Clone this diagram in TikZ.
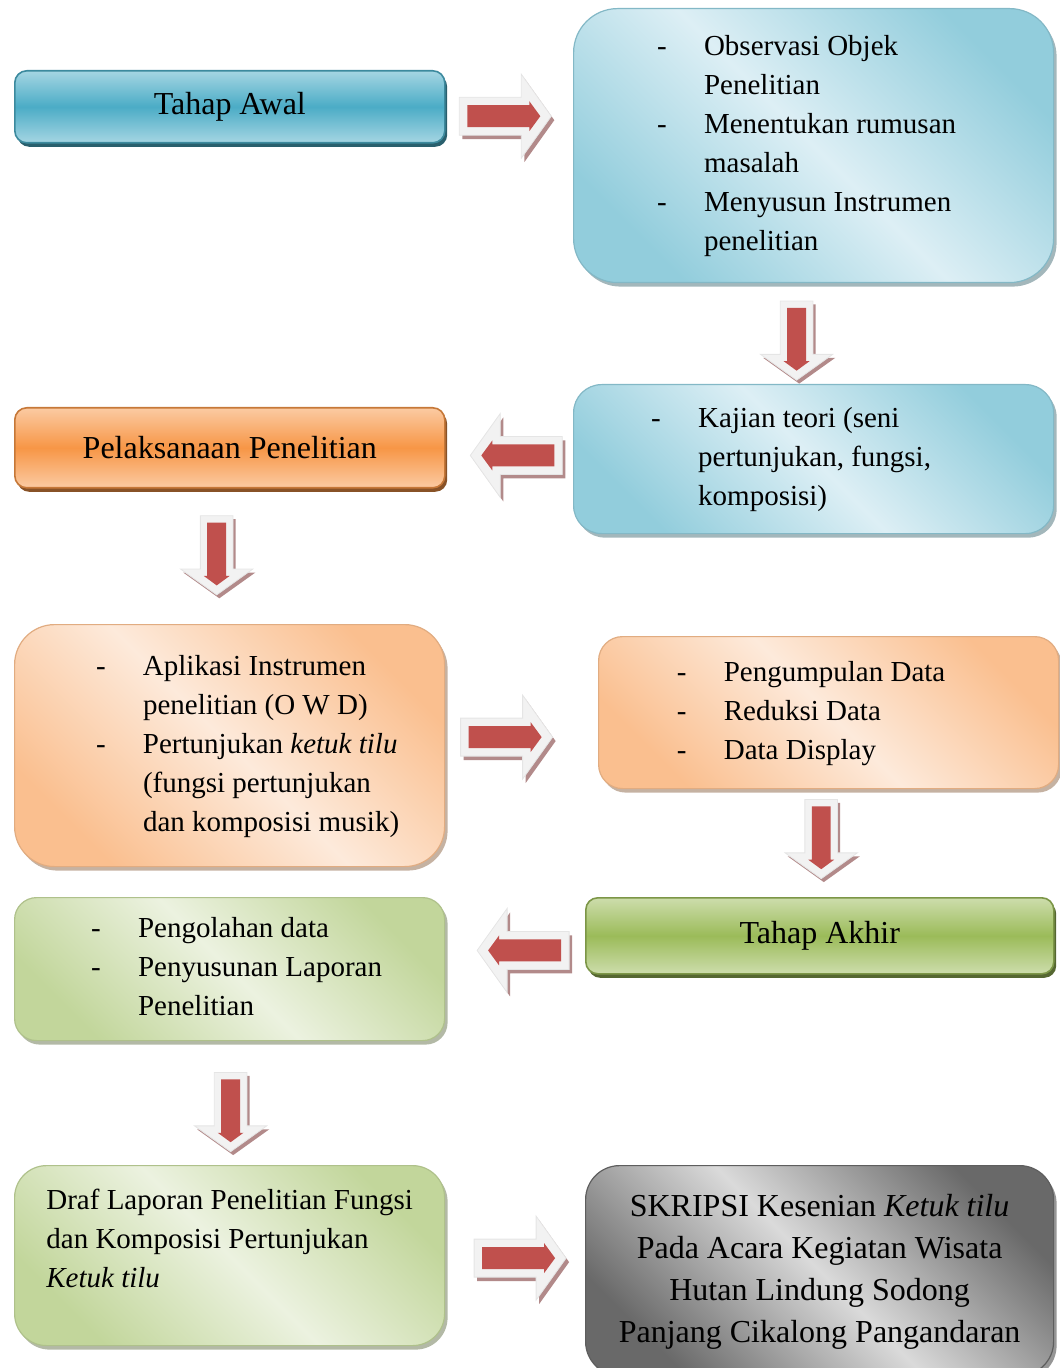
\documentclass[tikz,border=0pt]{standalone}
\usepackage{fontspec}
\setmainfont{Liberation Serif}
\usepackage{xcolor}
\definecolor{biru}{RGB}{75,172,198}
\definecolor{jingga}{RGB}{247,150,70}
\definecolor{hijau}{RGB}{155,187,89}
\definecolor{birumuda}{RGB}{146,205,220}
\definecolor{biruterang}{RGB}{221,239,245}
\definecolor{jinggamuda}{RGB}{250,191,143}
\definecolor{jinggaterang}{RGB}{253,234,219}
\definecolor{hijaumuda}{RGB}{194,214,155}
\definecolor{hijauterang}{RGB}{236,242,224}
\definecolor{abutua}{RGB}{105,105,105}
\definecolor{abuterang}{RGB}{218,218,218}
\definecolor{merahpanah}{RGB}{192,80,77}
\definecolor{merahbayang}{RGB}{178,138,138}
\definecolor{putihpanah}{RGB}{242,242,242}
\usepackage{tikz}
\usetikzlibrary{calc, positioning, shadows}

% daftar berpoin dengan tanda "-"
\newcommand{\daftar}[2][0pt]{\hspace*{#1}\begin{tabular}{@{}p{23.5pt}@{}l@{}}#2\end{tabular}}

\tikzset{
  pics/blkarrow/.style={code={
    \fill[bayang, shift={(3,4)}, rotate=#1] (-46,-19) -- (16,-19) -- (16,-42) -- (46,0) -- (16,42) -- (16,19) -- (-46,19) -- cycle;
    \filldraw[badan, rotate=#1] (-46,-19) -- (16,-19) -- (16,-42) -- (46,0) -- (16,42) -- (16,19) -- (-46,19) -- cycle;
    \fill[inti, rotate=#1] (-38,-11) -- (24,-11) -- (24,-15) -- (35,0) -- (24,15) -- (24,11) -- (-38,11) -- cycle;
  }}
}

\begin{document}
\begin{tikzpicture}[x=0.5pt, y=-0.5pt,
  tahap/.style={rectangle, rounded corners=6pt, draw=#1!80!black, line width=0.8pt, top color=#1!50!white, bottom color=#1!50!white, middle color=#1, inner sep=0pt, font=\fontsize{16}{19.5}\selectfont, drop shadow={shadow xshift=1.2pt, shadow yshift=-2pt, fill=#1!55!black, opacity=1}},
  kotak/.style 2 args={rectangle, draw=#1!90!black, line width=0.6pt, top color=#1, bottom color=#1, middle color=#2, shading angle=-45, inner sep=0pt, font=\fontsize{14.5}{19.5}\selectfont, drop shadow={shadow xshift=1.5pt, shadow yshift=-2pt, fill=#1!60!black, opacity=0.55}},
  bayang/.style={fill=merahbayang},
  badan/.style={fill=putihpanah, draw=gray!20, line width=0.4pt},
  inti/.style={fill=merahpanah},
  turun/.style={scale=0.86}
]
  \useasboundingbox (0,0) rectangle (1059,1368);

  % baris atas
  \node[tahap=biru, minimum width=215pt, minimum height=36pt, anchor=north west] (awal) at (14,70) {Tahap Awal};
  \node[kotak={birumuda}{biruterang}, rounded corners=22pt, minimum width=240pt, minimum height=137pt, anchor=north west] (obs) at (573,8) {
    \daftar[-7pt]{- & Observasi Objek\\
      & Penelitian\\
      - & Menentukan rumusan\\
      & masalah\\
      - & Menyusun Instrumen\\
      & penelitian}
  };

  \node[kotak={birumuda}{biruterang}, rounded corners=14pt, minimum width=240pt, minimum height=74.5pt, anchor=north west] (kaj) at (573,384) {
    \daftar[-22.5pt]{- & Kajian teori (seni\\
      & pertunjukan, fungsi,\\
      & komposisi)}
  };
  \node[tahap=jingga, minimum width=215pt, minimum height=40pt, anchor=north west] (pel) at (14,407) {Pelaksanaan Penelitian};

  \node[kotak={jinggamuda}{jinggaterang}, rounded corners=20pt, minimum width=215pt, minimum height=121pt, anchor=north west] (apl) at (14,624) {
    \daftar[18pt]{- & Aplikasi Instrumen\\
      & penelitian (O W D)\\
      - & Pertunjukan \textit{ketuk tilu}\\
      & (fungsi pertunjukan\\
      & dan komposisi musik)}
  };
  \node[kotak={jinggamuda}{jinggaterang}, rounded corners=12pt, minimum width=230pt, minimum height=76pt, anchor=north west] (pen) at (598,636) {
    \daftar[-17.5pt]{- & Pengumpulan Data\\
      - & Reduksi Data\\
      - & Data Display}
  };

  \node[tahap=hijau, minimum width=234pt, minimum height=38pt, anchor=north west] (akhir) at (585,897) {Tahap Akhir};
  \node[kotak={hijaumuda}{hijauterang}, rounded corners=11pt, minimum width=215pt, minimum height=71.5pt, anchor=north west] (olah) at (14,897) {
    \daftar[7pt]{- & Pengolahan data\\
      - & Penyusunan Laporan\\
      & Penelitian}
  };

  % baris bawah
  \node[kotak={hijaumuda}{hijauterang}, rounded corners=16pt, minimum width=215pt, minimum height=90pt, anchor=north west] (draf) at (14,1165) {
    \begin{tabular}{@{}l@{}}Draf Laporan Penelitian Fungsi\\
      dan Komposisi Pertunjukan\\
      \textit{Ketuk tilu}\\[-4.5pt]
      ~\end{tabular}
  };
  \node[kotak={abutua}{abuterang}, rounded corners=17pt, minimum width=234pt, minimum height=105pt, anchor=north west, font=\fontsize{16}{21}\selectfont] (skr) at (585,1165) {
    \begin{tabular}{@{}c@{}}SKRIPSI Kesenian \textit{Ketuk tilu}\\
      Pada Acara Kegiatan Wisata\\
      Hutan Lindung Sodong\\
      Panjang Cikalong Pangandaran\end{tabular}
  };

  % panah blok
  \pic at ($(awal.east)!.5!(obs.west)+(-4,-10)$) {blkarrow=0};
  \pic[turun] at ($(obs.south)!.5!(kaj.north)+(-17,7)$) {blkarrow=-90};
  \pic at ($(kaj.west)!.5!(pel.east)+(7,2)$) {blkarrow=180};
  \pic[turun] at ($(pel.south)!.5!(apl.north)+(-13,-1)$) {blkarrow=-90};
  \pic at ($(apl.east)!.5!(pen.west)+(-15,8)$) {blkarrow=0};
  \pic[turun] at ($(pen.south)!.5!(akhir.north)+(-3,-4)$) {blkarrow=-90};
  \pic at ($(akhir.west)!.5!(olah.east)+(8,-2)$) {blkarrow=180};
  \pic[turun] at ($(olah.south)!.5!(draf.north)+(1,9)$) {blkarrow=-90};
  \pic at ($(draf.east)!.5!(skr.west)+(5,-5)$) {blkarrow=0};
\end{tikzpicture}
\end{document}
